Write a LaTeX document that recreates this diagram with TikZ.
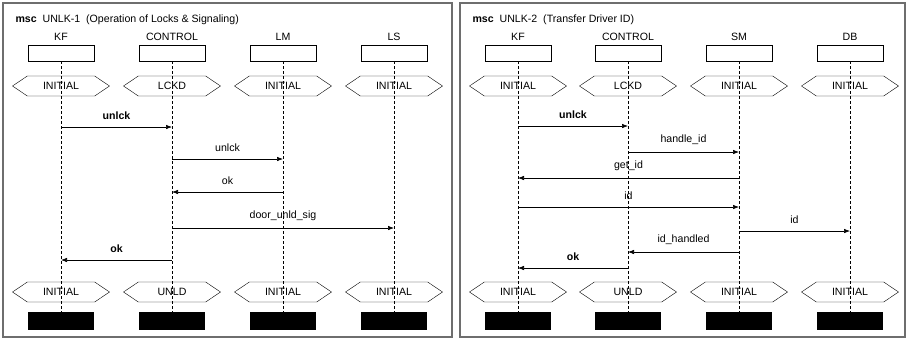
\documentclass[tikz,border=0pt]{standalone}
\usepackage{fontspec}
\setmainfont{Liberation Sans}
\usetikzlibrary{arrows.meta,positioning,shapes.symbols}
\definecolor{framegray}{HTML}{6E6E6E}

\tikzset{
  headbox/.style={draw, minimum width=66pt, minimum height=16pt, inner sep=0pt},
  endbox/.style={fill=black, minimum width=66pt, minimum height=18pt, inner sep=0pt},
  cond/.style={draw, signal, signal to=west and east, signal pointer angle=68,
    minimum width=97pt, minimum height=20pt, inner sep=0pt},
  life/.style={dash pattern=on 3pt off 2pt, line width=0.6pt},
  msg/.style={-{Latex[length=6pt,width=4.5pt]}, line width=0.6pt},
  lbl/.style={above=3.5pt},
  mscframe/.style={draw=framegray, line width=1.2pt},
}

\begin{document}
\begin{tikzpicture}[x=1pt,y=-1pt,font=\fontsize{10.6}{12}\selectfont]
  \useasboundingbox (0,0) rectangle (907,341);

  % frames
  \draw[mscframe] (3,3) rectangle (452,337);
  \draw[mscframe] (460,3) rectangle (905,337);
  \node[anchor=west] (titleA) at (12,20) {\textbf{msc}\ \ UNLK-1 \ (Operation of Locks \& Signaling)};
  \node[anchor=west] (titleB) at (469,20) {\textbf{msc}\ \ UNLK-2 \ (Transfer Driver ID)};

  % instances
  \foreach \n/\x/\t/\s/\e in {kfA/61/KF/INITIAL/INITIAL, ctlA/172/CONTROL/LCKD/UNLD,
      lm/283/LM/INITIAL/INITIAL, ls/394/LS/INITIAL/INITIAL,
      kfB/518/KF/INITIAL/INITIAL, ctlB/628/CONTROL/LCKD/UNLD,
      sm/739/SM/INITIAL/INITIAL, db/850/DB/INITIAL/INITIAL} {
    \node[headbox] (\n) at (\x,53) {};
    \node (\n-name) at (\x,37) {\t};
    \node[cond] (\n-s) at (\x,86) {\s};
    \node[cond] (\n-e) at (\x,292) {\e};
    \node[endbox] (\n-end) at (\x,321) {};
    \draw[life] (\n) -- (\n-end);
  }

  % UNLK-1 messages
  \draw[msg] (kfA |- 0,127) -- node[lbl] {\textbf{unlck}} (ctlA |- 0,127);
  \draw[msg] (ctlA |- 0,159) -- node[lbl] {unlck} (lm |- 0,159);
  \draw[msg] (lm |- 0,192) -- node[lbl] {ok} (ctlA |- 0,192);
  \draw[msg] (ctlA |- 0,228) -- node[lbl] {door\_unld\_sig} (ls |- 0,228);
  \draw[msg] (ctlA |- 0,260) -- node[lbl] {\textbf{ok}} (kfA |- 0,260);

  % UNLK-2 messages
  \draw[msg] (kfB |- 0,126) -- node[lbl] {\textbf{unlck}} (ctlB |- 0,126);
  \draw[msg] (ctlB |- 0,152) -- node[lbl] {handle\_id} (sm |- 0,152);
  \draw[msg] (sm |- 0,178) -- node[lbl] {get\_id} (kfB |- 0,178);
  \draw[msg] (kfB |- 0,207) -- node[lbl] {id} (sm |- 0,207);
  \draw[msg] (sm |- 0,231) -- node[lbl] {id} (db |- 0,231);
  \draw[msg] (sm |- 0,252) -- node[lbl] {id\_handled} (ctlB |- 0,252);
  \draw[msg] (ctlB |- 0,268) -- node[lbl] {\textbf{ok}} (kfB |- 0,268);
\end{tikzpicture}
\end{document}
